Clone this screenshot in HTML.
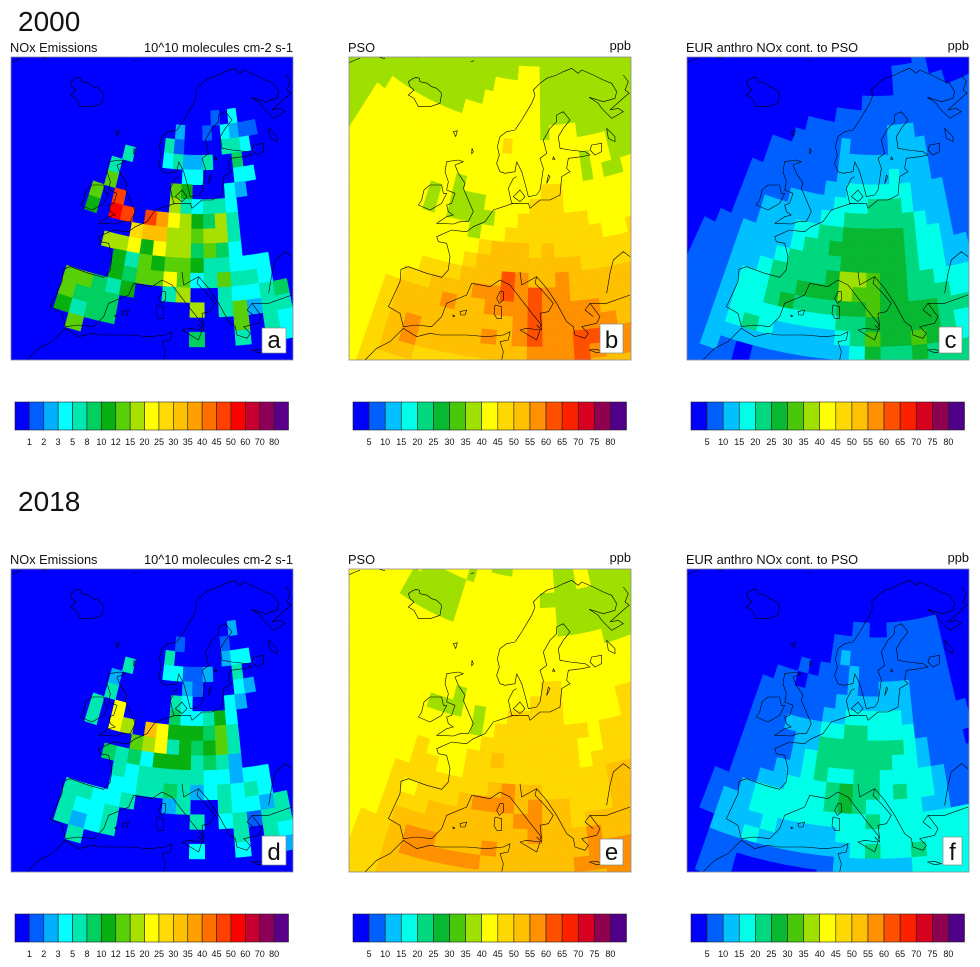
<!DOCTYPE html>
<html lang="en">
<head>
<meta charset="utf-8">
<title>NOx emissions and PSO maps 2000 and 2018</title>
<style>
html,body{margin:0;padding:0;background:#fff}
svg{display:block}
text{font-family:"Liberation Sans",Arial,sans-serif;fill:#111}
.yr{font-size:28px}
.lb{font-size:12.8px}
.let{font-size:24px;text-anchor:middle}
.tk{font-size:9px;text-anchor:middle}
.coast{fill:none;stroke:#000;stroke-width:1.8;stroke-linejoin:round}
</style>
</head>
<body>
<svg id="figure" xmlns="http://www.w3.org/2000/svg" width="980" height="967" viewBox="0 0 980 967">
<defs>
<clipPath id="panel-clip"><rect x="11" y="57" width="282" height="303"/></clipPath>
<g id="coast">
<path class="coast" d="M28,68L45,60L60,55M118,52L135,56M228,52L236,50M392,66L402,62"/>
<path class="coast" d="M205,125L215,118L228,112L238,115L240,125L262,130L275,140L290,145L305,160L300,190L270,200L235,200L222,175L205,165L222,150L210,140Z"/>
<path class="coast" d="M340,275L352,272L347,290ZM396,325L400,335L395,342Z"/>
<path class="coast" d="M530,365L525,395L495,400L480,395L470,370L478,345L472,320L480,290L500,275L525,270L545,240L560,215L575,190L585,165L580,150L600,130L620,115L650,105L670,95L695,85L715,100L725,90L760,105L790,120L815,130L830,155L825,175L790,185L748,172L775,190L785,205L815,235L850,215L835,205L810,210L860,165L868,160L855,150L865,125L850,105"/>
<path class="coast" d="M530,365L545,395L555,430L565,470L590,465L600,450L605,420L610,385L600,355L620,340L610,300L630,265L650,245L650,225L670,215L690,240L670,265L655,290L660,325L690,330L735,335L750,345L725,350L685,355L680,385L690,395L665,410L660,465L630,480L600,480L570,505L565,490L520,490L490,500L460,510L435,545L400,560L380,575L350,572L335,570L290,590L295,605L320,610L330,650L325,690L305,712L260,700L205,680L183,688L180,725L150,790L145,800L180,820L190,860L230,855L275,860L305,830L320,790L380,765L395,730L450,740L480,720L510,735L560,800L600,850L605,870L590,855"/>
<path class="coast" d="M540,695L545,735L590,710L585,730L610,755L640,790L625,815L600,820L605,860M590,710L620,745L650,790L680,845L700,860L705,885L735,895L745,880L725,860L770,850L780,830L750,790L735,810L760,830M750,790L800,790L870,765M800,760L810,700L820,660L850,635L870,650"/>
<path class="coast" d="M748,930L770,928L790,935L770,938Z"/>
<path class="coast" d="M75,960L110,925L150,905L190,865L230,890L270,880L300,885L380,885L440,890L490,885L510,875L505,900L480,905L490,935L485,960"/>
<path class="coast" d="M540,870L560,865L600,870L590,900L565,885Z"/>
<path class="coast" d="M490,755L490,780L478,790L470,775L480,755ZM465,795L485,800L485,835L470,835L462,820Z"/>
<path class="coast" d="M360,815L380,810L375,825L362,825ZM338,825L345,828L340,830Z"/>
<path class="coast" d="M355,360L370,365L345,375L355,400L375,430L370,445L385,480L400,515L385,545L360,545L340,552L290,550L320,530L340,525L325,515L320,495L335,490L345,460L320,450L325,425L315,395L320,365Z"/>
<path class="coast" d="M305,435L310,460L320,460L305,490L270,510L235,495L245,480L252,450L270,435Z"/>
<path class="coast" d="M530,410L520,415L505,445L515,490L535,490M540,450L555,470L540,485L520,470Z"/>
<path class="coast" d="M630,410L620,430L625,405ZM640,350L645,358L638,358Z"/>
<path class="coast" d="M755,315L785,310L785,335L765,345L750,330ZM800,265L825,290L825,305L805,295Z"/>
</g>
</defs>
<rect x="0" y="0" width="980" height="967" fill="#fff"/>
<text class="yr" x="18" y="31">2000</text>
<text class="yr" x="18" y="511">2018</text>

<text class="lb" x="10" y="52">NOx Emissions</text>
<text class="lb" x="293" y="52" text-anchor="end">10^10 molecules cm-2 s-1</text>
<text class="lb" x="348" y="52">PSO</text>
<text class="lb" x="631" y="50" text-anchor="end">ppb</text>
<text class="lb" x="686" y="52">EUR anthro NOx cont. to PSO</text>
<text class="lb" x="969" y="50" text-anchor="end">ppb</text>
<text class="lb" x="10" y="564">NOx Emissions</text>
<text class="lb" x="293" y="564" text-anchor="end">10^10 molecules cm-2 s-1</text>
<text class="lb" x="348" y="564">PSO</text>
<text class="lb" x="631" y="562" text-anchor="end">ppb</text>
<text class="lb" x="686" y="564">EUR anthro NOx cont. to PSO</text>
<text class="lb" x="969" y="562" text-anchor="end">ppb</text>

<g id="panel-a" transform="translate(0,0)"></g>
<g id="panel-b" transform="translate(338,0)"></g>
<g id="panel-c" transform="translate(676,0)"></g>
<g id="panel-d" transform="translate(0,512)"></g>
<g id="panel-e" transform="translate(338,512)"></g>
<g id="panel-f" transform="translate(676,512)"></g>

<g><rect x="262" y="328" width="24" height="25" fill="#fff" stroke="#888" stroke-width=".7"/><text class="let" x="274" y="348">a</text></g>
<g><rect x="600" y="324" width="23" height="29" fill="#fff" stroke="#888" stroke-width=".7"/><text class="let" x="611.5" y="348">b</text></g>
<g><rect x="939" y="327" width="23" height="26" fill="#fff" stroke="#888" stroke-width=".7"/><text class="let" x="950.5" y="348">c</text></g>
<g><rect x="262" y="836" width="24" height="29" fill="#fff" stroke="#888" stroke-width=".7"/><text class="let" x="274" y="860">d</text></g>
<g><rect x="600" y="839" width="23" height="26" fill="#fff" stroke="#888" stroke-width=".7"/><text class="let" x="611.5" y="860">e</text></g>
<g><rect x="943" y="837" width="19" height="28" fill="#fff" stroke="#888" stroke-width=".7"/><text class="let" x="952.5" y="860">f</text></g>
</svg>

<script>
/* Tick labels and colour classes */
const emissionTicks = [1,2,3,5,8,10,12,15,20,25,30,35,40,45,50,60,70,80];
const psoTicks = [5,10,15,20,25,30,35,40,45,50,55,60,65,70,75,80];
const emissionColors = ['#0000ff','#0060ff','#00b0ff','#00ffff','#00e8b0','#00d060','#08b010','#58d008','#a8e000','#ffff00','#ffdc00','#ffc000','#ffa000','#ff7000','#ff4000','#ff0000','#c80030','#8c0058','#5a0088'];
const psoColors = ['#0000ff','#0060ff','#00c0ff','#00ffe8','#00d880','#08b830','#48c808','#a0e000','#ffff00','#ffd800','#ffc000','#ff9000','#ff5000','#ff2000','#d80020','#900050','#500088'];

/* NOx emissions, one list per grid row (rows 4-19, columns -11..6) */
const emissions2000 = [
[0,0,0,0,0,0,0,0,0,0,0,0,1.5,0,4,0,0,0],
[0,0,0,0,0,0,0,0,2.5,0,0,1.5,0,4,2.5,1.5,1.5,0],
[0,0,0,0,0,0,0,6,1.5,0,0,0,0,6,6,4,0,0],
[0,0,0,6,0,0,0,4,6,2.5,2.5,6,0,0,9,0,0,0],
[0,0,6,0,0,0,0,0,0,4,4,0,0,0,4,4,0,0],
[0,0,13,0,0,0,0,0,13,11,0,0,0,4,2.5,0,0,0],
[0,13,0,47,0,0,0,0,17,6,4,6,6,4,0,0,0,0],
[0,11,0,55,47,0,47,37,22,17,11,9,17,6,0,0,0,0],
[0,0,0,0,0,27,32,32,17,17,13,17,17,6,0,0,0,0],
[0,0,0,17,17,22,11,22,17,17,9,13,9,4,0,0,0,0],
[0,0,0,0,11,6,13,11,13,13,11,6,6,4,4,4,0,0],
[0,0,0,0,11,9,13,13,22,13,4,6,13,6,6,4,0,0],
[0,13,13,9,6,11,0,0,6,17,0,0,6,4,4,6,9,0],
[0,13,9,9,9,0,0,0,0,0,17,0,6,13,2.5,6,6,0],
[0,11,6,9,9,0,0,0,0,0,0,0,0,13,0,6,4,0],
[0,0,13,0,0,0,0,0,0,0,9,0,0,6,0,6,4,0]
];
const emissions2018 = [
[0,0,0,0,0,0,0,0,0,0,0,0,0,0,2.5,0,0,0],
[0,0,0,0,0,0,0,0,1.5,0,0,0,0,1.5,0,0,0,0],
[0,0,0,0,0,0,0,6,0,0,0,0,0,2.5,4,4,0,0],
[0,0,0,6,0,0,0,4,4,1.5,1.5,2.5,0,0,6,0,0,0],
[0,0,2.5,0,0,0,0,0,0,2.5,1.5,0,0,0,4,2.5,0,0],
[0,0,6,0,0,0,0,0,6,4,0,0,0,4,2.5,0,0,0],
[0,6,0,22,0,0,0,0,9,4,4,6,11,4,0,0,0,0],
[0,6,0,22,17,0,32,22,11,11,11,9,13,6,0,0,0,0],
[0,0,0,0,0,13,17,22,6,11,9,11,13,6,0,0,0,0],
[0,0,0,9,6,9,4,11,11,11,6,9,6,2.5,0,0,0,0],
[0,0,0,0,6,4,6,6,6,6,6,4,4,2.5,4,4,0,0],
[0,0,0,0,4,4,6,6,9,6,2.5,4,6,4,6,4,0,0],
[0,6,6,4,4,6,0,0,2.5,6,0,0,6,4,4,2.5,6,0],
[0,6,4,4,6,0,0,0,0,0,6,0,4,6,1.5,6,6,0],
[0,6,2.5,4,6,0,0,0,0,0,0,0,0,6,0,6,4,0],
[0,0,6,0,0,0,0,0,0,0,4,0,0,4,0,6,2.5,0]
];

/* PSO and EUR contribution, rows 0-23, each row as value,run pairs from column -26 */
const pso2000 = [
[37,42],
[37,23,42,3,37,16],
[37,20,42,6,37,16],
[37,19,42,7,37,16],
[37,17,42,9,37,16],
[37,8,42,18,37,1,42,3,37,12],
[37,7,42,15,47,1,42,10,37,9],
[37,7,42,23,37,1,42,2,37,9],
[37,7,42,23,37,1,42,1,37,2,42,8],
[37,7,42,11,37,1,42,7,47,2,42,14],
[37,7,42,9,37,1,42,1,37,3,42,4,47,3,42,14],
[37,7,42,9,37,1,42,1,37,4,42,2,47,6,42,12],
[42,20,37,1,42,2,47,8,42,2,47,9],
[42,21,47,1,52,3,47,1,52,1,47,15],
[42,20,47,1,52,8,47,13],
[42,17,47,3,52,3,62,1,57,1,52,2,57,1,52,14],
[42,16,47,2,52,3,57,2,62,1,57,1,62,1,57,2,52,14],
[42,15,47,1,52,3,57,1,52,2,57,3,62,1,57,4,52,12],
[42,15,47,1,52,8,57,1,62,1,57,5,52,11],
[42,15,47,1,52,1,57,1,52,4,57,1,52,1,57,1,62,1,57,2,62,2,52,1,57,11],
[42,15,47,1,52,1,57,1,52,7,57,3,62,1,57,1,52,1,57,11],
[42,15,47,1,52,2,47,7,57,3,62,1,52,13],
[42,15,47,10,57,17],
[42,15,47,27]
];
const euroContribution2000 = [
[2,31,7,2,2,9],
[2,28,7,5,2,9],
[2,28,7,7,2,7],
[2,24,7,18],
[2,21,7,21],
[2,18,7,9,12,3,7,12],
[2,17,7,5,12,1,7,4,12,4,7,11],
[2,15,7,7,12,9,7,11],
[2,15,7,7,12,5,17,1,12,3,7,11],
[2,14,7,7,12,2,17,6,12,3,7,10],
[2,14,7,4,12,4,17,3,22,3,17,1,12,3,7,10],
[2,14,7,2,12,5,17,2,22,6,17,1,12,2,7,10],
[2,14,7,2,12,3,17,2,22,2,27,5,22,1,17,2,12,1,7,10],
[2,13,7,2,12,4,17,1,22,2,27,6,22,1,17,2,12,2,7,9],
[2,12,7,3,12,3,17,1,22,4,27,5,22,1,17,2,12,11],
[2,12,7,3,12,2,17,1,22,4,27,1,37,2,32,1,27,2,22,2,17,12],
[2,12,7,3,12,1,17,2,22,2,27,3,37,1,32,2,27,2,22,3,17,11],
[2,12,7,3,12,1,17,2,22,1,27,1,22,3,27,2,32,1,27,4,22,12],
[2,12,7,3,12,1,17,7,22,2,27,5,22,1,17,11],
[2,12,7,3,12,1,17,1,22,1,17,1,12,4,17,1,22,1,32,1,27,2,32,1,27,1,22,1,17,11],
[7,15,12,9,17,1,27,1,22,2,27,1,22,13],
[7,15,12,1,7,1,2,1,7,5,12,1,17,1,27,1,22,16],
[7,17,2,1,7,24],
[7,42]
];
const pso2018 = [
[42,19,37,3,42,6,37,3,42,2,37,9],
[42,16,37,1,42,11,37,3,42,2,37,9],
[42,10,37,6,42,10,37,16],
[42,9,37,7,42,12,37,14],
[42,9,37,7,42,12,37,14],
[42,33,37,9],
[42,42],
[42,42],
[42,26,47,2,42,14],
[42,18,37,1,42,6,47,3,42,5,47,9],
[42,16,37,3,42,1,37,1,42,2,47,5,42,5,47,9],
[42,20,37,1,42,1,47,8,42,1,47,11],
[42,21,47,8,42,2,47,11],
[42,16,47,1,42,3,47,2,52,1,47,6,42,1,47,12],
[42,16,47,2,42,2,47,11,52,11],
[42,15,47,7,52,1,57,1,52,2,47,5,52,11],
[42,15,47,1,42,1,47,3,52,1,57,2,57,1,52,1,57,1,52,2,47,3,52,11],
[42,15,47,3,52,6,57,2,52,2,47,1,52,13],
[42,15,47,1,52,9,57,1,52,3,57,1,52,12],
[42,14,47,2,52,1,57,2,52,3,57,1,52,6,57,13],
[42,14,47,2,52,1,57,5,52,6,57,14],
[42,14,47,2,52,14,57,12],
[42,14,47,2,52,26],
[42,14,47,2,52,26]
];
const euroContribution2018 = [
[2,42],
[2,42],
[2,42],
[2,42],
[2,23,7,2,2,2,7,6,2,9],
[2,21,7,12,2,9],
[2,21,7,1,12,1,7,10,2,9],
[2,18,7,1,2,1,7,3,12,1,7,9,2,9],
[2,16,7,2,2,1,7,4,12,1,7,2,12,3,7,4,2,9],
[2,15,7,7,12,7,7,4,2,9],
[2,15,7,6,12,2,17,5,12,1,7,5,2,8],
[2,15,7,3,12,3,17,2,22,2,17,4,7,5,2,8],
[2,15,7,4,12,2,22,7,17,1,12,1,7,3,2,9],
[2,15,7,4,12,1,17,1,22,6,17,2,12,1,7,4,2,8],
[2,15,7,3,12,2,17,1,22,1,17,2,22,2,17,4,12,1,7,3,2,8],
[2,15,7,2,12,2,17,3,22,1,27,1,22,2,17,1,22,1,17,2,12,1,7,11],
[2,14,7,2,12,1,17,5,22,1,27,1,22,1,17,4,12,2,7,11],
[2,14,7,1,12,2,17,8,22,1,17,16],
[2,14,7,1,12,3,17,1,12,4,17,19],
[2,15,12,2,17,1,12,6,17,1,22,1,17,2,22,1,17,13],
[2,15,7,8,12,5,17,14],
[2,15,7,2,2,5,7,2,12,4,17,14],
[2,15,7,2,2,5,7,20],
[2,42]
];

/* Grid axes: rows are arcs around a pole above the figure, column width grows with ring radius */
const POLE_X = 199.5, POLE_Y = -110, RING_START = 162, RING_STEP = 14.75;
const SVG_NS = 'http://www.w3.org/2000/svg';
function ringRadius(row){ return RING_START + RING_STEP * row; }
function columnWidth(row){ return 1.4 + 0.031 * ringRadius(row); }
function columnOffset(col){
  if (col < -12) return -(11.66 + 0.83 * (-col - 12));
  if (col > 7) return 7.34 + 0.85 * (col - 7);
  return col + 0.34;
}
function gridX(row, col){ return POLE_X + columnWidth(row) * columnOffset(col); }
function gridY(row, col){
  const r = ringRadius(row), dx = columnWidth(row) * columnOffset(col);
  return POLE_Y + Math.sqrt(Math.max(r * r - dx * dx, 1));
}
function classIndex(value, ticks){
  for (let i = 0; i < ticks.length; i++) { if (value < ticks[i]) return i; }
  return ticks.length;
}
function expandRuns(pairs){
  const out = [];
  for (let i = 0; i < pairs.length; i += 2) { for (let n = 0; n < pairs[i + 1]; n++) out.push(pairs[i]); }
  return out;
}
function make(tag, attrs, parent){
  const node = document.createElementNS(SVG_NS, tag);
  for (const key in attrs) node.setAttribute(key, attrs[key]);
  parent.appendChild(node);
  return node;
}

function drawHeatmap(id, rows, ticks, colors, firstRow, firstCol){
  const panel = document.getElementById(id);
  const clip = make('g', {'clip-path': 'url(#panel-clip)'}, panel);
  
  
  const base = make('rect', {x: 11, y: 57, width: 282, height: 303, fill: colors[0]}, clip);
  
  
  rows.forEach(function(values, r){
    const row = firstRow + r;
    values.forEach(function(value, c){
      const col = firstCol + c;
      const k = classIndex(value, ticks);
      if (k === 0 && value === 0) return;
      const corners = [[row, col], [row, col + 1], [row + 1, col + 1], [row + 1, col]];
      const xs = corners.map(function(p){ return gridX(p[0], p[1]); });
      const ys = corners.map(function(p){ return gridY(p[0], p[1]); });
      if (Math.max.apply(null, xs) < 11 || Math.min.apply(null, xs) > 293 || Math.max.apply(null, ys) < 57 || Math.min.apply(null, ys) > 360) return;
      const pts = xs.map(function(x, i){ return x.toFixed(1) + ',' + ys[i].toFixed(1); }).join(' ');
      const cell = make('polygon', {points: pts, fill: colors[k], stroke: colors[k], 'stroke-width': 0.5}, clip);
      
      
    });
  });
  const coast = make('use', {href: '#coast', transform: 'translate(2,40) scale(0.33333)'}, clip);
  
  
  const frame = make('rect', {x: 11, y: 57, width: 282, height: 303, fill: 'none', stroke: '#8a8a9a', 'stroke-width': 0.8}, panel);
  
  
  drawColorbar(panel, ticks, colors);
}

function drawColorbar(panel, ticks, colors){
  const left = 15, total = 273.5, top = 402, height = 28;
  const step = total / colors.length;
  colors.forEach(function(color, i){
    const swatch = make('rect', {x: left + i * step, y: top, width: step, height: height, fill: color, stroke: '#222', 'stroke-width': 0.6}, panel);
    
    
  });
  ticks.forEach(function(tick, i){
    const label = make('text', {x: left + (i + 1) * step, y: 445, class: 'tk'}, panel);
    label.textContent = String(tick);
    
    
  });
}

drawHeatmap('panel-a', emissions2000, emissionTicks, emissionColors, 4, -11);
drawHeatmap('panel-b', pso2000.map(expandRuns), psoTicks, psoColors, 0, -26);
drawHeatmap('panel-c', euroContribution2000.map(expandRuns), psoTicks, psoColors, 0, -26);
drawHeatmap('panel-d', emissions2018, emissionTicks, emissionColors, 4, -11);
drawHeatmap('panel-e', pso2018.map(expandRuns), psoTicks, psoColors, 0, -26);
drawHeatmap('panel-f', euroContribution2018.map(expandRuns), psoTicks, psoColors, 0, -26);
</script>
</body>
</html>
